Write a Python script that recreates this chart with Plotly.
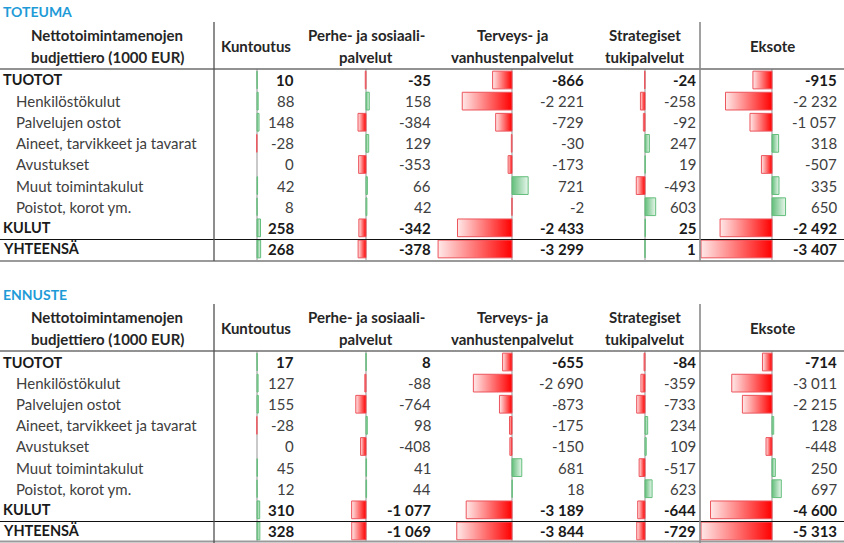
import plotly.graph_objects as go

# ---------------- data ----------------
row_labels = ["TUOTOT", "Henkilöstökulut", "Palvelujen ostot", "Aineet, tarvikkeet ja tavarat",
              "Avustukset", "Muut toimintakulut", "Poistot, korot ym.", "KULUT", "YHTEENSÄ"]
bold_rows = [True, False, False, False, False, False, False, True, True]
header_label = ["Nettotoimintamenojen", "budjettiero (1000 EUR)"]
column_titles = [["Kuntoutus"], ["Perhe- ja sosiaali-", "palvelut"], ["Terveys- ja", "vanhustenpalvelut"],
                 ["Strategiset", "tukipalvelut"], ["Eksote"]]
table_titles = ["TOTEUMA", "ENNUSTE"]

toteuma_kuntoutus = [10, 88, 148, -28, 0, 42, 8, 258, 268]
toteuma_perhe = [-35, 158, -384, 129, -353, 66, 42, -342, -378]
toteuma_terveys = [-866, -2221, -729, -30, -173, 721, -2, -2433, -3299]
toteuma_strategiset = [-24, -258, -92, 247, 19, -493, 603, 25, 1]
toteuma_eksote = [-915, -2232, -1057, 318, -507, 335, 650, -2492, -3407]

ennuste_kuntoutus = [17, 127, 155, -28, 0, 45, 12, 310, 328]
ennuste_perhe = [8, -88, -764, 98, -408, 41, 44, -1077, -1069]
ennuste_terveys = [-655, -2690, -873, -175, -150, 681, 18, -3189, -3844]
ennuste_strategiset = [-84, -359, -733, 234, 109, -517, 623, -644, -729]
ennuste_eksote = [-714, -3011, -2215, 128, -448, 250, 697, -4600, -5313]

tables = [
    [toteuma_kuntoutus, toteuma_perhe, toteuma_terveys, toteuma_strategiset, toteuma_eksote],
    [ennuste_kuntoutus, ennuste_perhe, ennuste_terveys, ennuste_strategiset, ennuste_eksote],
]

# ---------------- layout geometry (pixels) ----------------
W, H = 844, 543
col_axis_px = [257, 366, 512, 645, 772]
col_domain_px = [(215, 298), (298, 434), (434, 588), (588, 700), (700, 844)]
value_right_px = [296, 433, 586, 698, 839]
col_width_factor = [0.65, 1.0, 1.075, 0.85, 1.0]
bar_max_px = 71
table_offset = 282
row0_px, row_step = 80, 21.12
half_h = 0.42

FONT = "Lato, Carlito, Calibri, sans-serif"
FS = 15
RED, RED_LIGHT, RED_LINE = "rgb(255,0,0)", "rgb(255,232,232)", "rgb(236,84,92)"
GREEN, GREEN_LIGHT, GREEN_LINE = "rgb(99,190,123)", "rgb(232,246,236)", "rgb(99,190,123)"


def px_x(p):
    return p / W


def px_y(p):
    return 1 - p / H


def fmt(v):
    return f"{v:,}".replace(",", " ")


fig = go.Figure()
annotations = []
shapes = []
layout_axes = {}

for t, cols in enumerate(tables):
    off = t * table_offset
    ykey = "yaxis" if t == 0 else f"yaxis{t + 1}"
    yref = "y" if t == 0 else f"y{t + 1}"
    top = row0_px + off - row_step * 0.5
    bot = row0_px + off + row_step * 8.5
    maxabs = max(abs(v) for c in cols for v in c)
    k = bar_max_px / maxabs
    layout_axes[ykey] = dict(domain=[px_y(bot), px_y(top)], range=[8.5, -0.5], visible=False,
                             anchor=f"x{t * 5 + 1}")
    for c, vals in enumerate(cols):
        n = t * 5 + c + 1
        xref = f"x{n}"
        kc = k * col_width_factor[c]
        d0, d1 = col_domain_px[c]
        ax = col_axis_px[c]
        layout_axes[f"xaxis{n}"] = dict(
            domain=[px_x(d0), px_x(d1)], range=[(d0 - ax) / kc, (d1 - ax) / kc],
            anchor=yref, showgrid=False, showticklabels=False, ticks="", showline=False,
            zeroline=True, zerolinecolor="#c9c9c9", zerolinewidth=1.5)
        for i, v in enumerate(vals):
            if v != 0:
                if v < 0:
                    grad = dict(type="horizontal", start=v, stop=0,
                                colorscale=[[0, RED_LIGHT], [1, RED]])
                    lc = RED_LINE
                else:
                    grad = dict(type="horizontal", start=0, stop=v,
                                colorscale=[[0, GREEN], [1, GREEN_LIGHT]])
                    lc = GREEN_LINE
                fig.add_trace(go.Scatter(
                    x=[0, v, v, 0, 0], y=[i - half_h, i - half_h, i + half_h, i + half_h, i - half_h],
                    xaxis=xref, yaxis=yref, mode="lines", fill="toself", fillgradient=grad,
                    line=dict(color=lc, width=1), hoverinfo="skip", showlegend=False))
            annotations.append(dict(
                x=px_x(value_right_px[c]), xref="paper", y=i, yref=yref,
                xanchor="right", yanchor="middle",
                text=f"<b>{fmt(v)}</b>" if bold_rows[i] else fmt(v), showarrow=False,
                font=dict(family=FONT, size=FS, color="#1a1a1a" if bold_rows[i] else "#404040")))

    # row labels
    for i, lab in enumerate(row_labels):
        annotations.append(dict(
            x=px_x(1 if bold_rows[i] else 14), xref="paper", y=i, yref=yref,
            xanchor="left", yanchor="middle",
            text=f"<b>{lab}</b>" if bold_rows[i] else lab, showarrow=False,
            font=dict(family=FONT, size=FS if not bold_rows[i] else 14.5,
                      color="#1a1a1a" if bold_rows[i] else "#404040")))

    # title
    annotations.append(dict(x=px_x(1), y=px_y(12 + off), xref="paper", yref="paper",
                            xanchor="left", yanchor="middle",
                            text=f"<b>{table_titles[t]}</b>", showarrow=False,
                            font=dict(family=FONT, size=14, color="rgb(30,155,215)")))
    # header label
    for j, line in enumerate(header_label):
        annotations.append(dict(x=px_x(107), y=px_y(35 + 22 * j + off), xref="paper", yref="paper",
                                xanchor="center", yanchor="middle",
                                text=f"<b>{line}</b>", showarrow=False,
                                font=dict(family=FONT, size=FS, color="#262626")))
    for c, lines in enumerate(column_titles):
        cx = col_axis_px[c] if c > 0 else 256
        ys = [46] if len(lines) == 1 else [35, 57]
        for line, yy in zip(lines, ys):
            annotations.append(dict(x=px_x(cx), y=px_y(yy + off), xref="paper", yref="paper",
                                    xanchor="center", yanchor="middle",
                                    text=f"<b>{line}</b>", showarrow=False,
                                    font=dict(family=FONT, size=FS, color="#262626")))

    # rules
    def hline(y, color, width, x0=0, x1=W):
        shapes.append(dict(type="line", xref="paper", yref="paper", x0=px_x(x0), x1=px_x(x1),
                           y0=px_y(y), y1=px_y(y), line=dict(color=color, width=width)))

    def vline(x, y0, y1, color, width):
        shapes.append(dict(type="line", xref="paper", yref="paper", x0=px_x(x), x1=px_x(x),
                           y0=px_y(y0), y1=px_y(y1), line=dict(color=color, width=width)))

    hline(69 + off, "#6e6e6e", 1.6)
    hline(239.5 + off, "#111111", 1.2)
    hline(min(261 + off, H - 1.5), "#9a9a9a", 2)
    vline(214, 22 + off, 261 + off, "#505050", 1.3)
    vline(700, 22 + off, 261 + off, "#8a8a8a", 1.6)

fig.update_layout(
    width=W, height=H, margin=dict(l=0, r=0, t=0, b=0),
    paper_bgcolor="white", plot_bgcolor="rgba(0,0,0,0)", showlegend=False,
    annotations=annotations, shapes=shapes, **layout_axes)

fig.write_html("out.html", config={"displayModeBar": False},
               post_script="document.body.style.margin='0px';")
